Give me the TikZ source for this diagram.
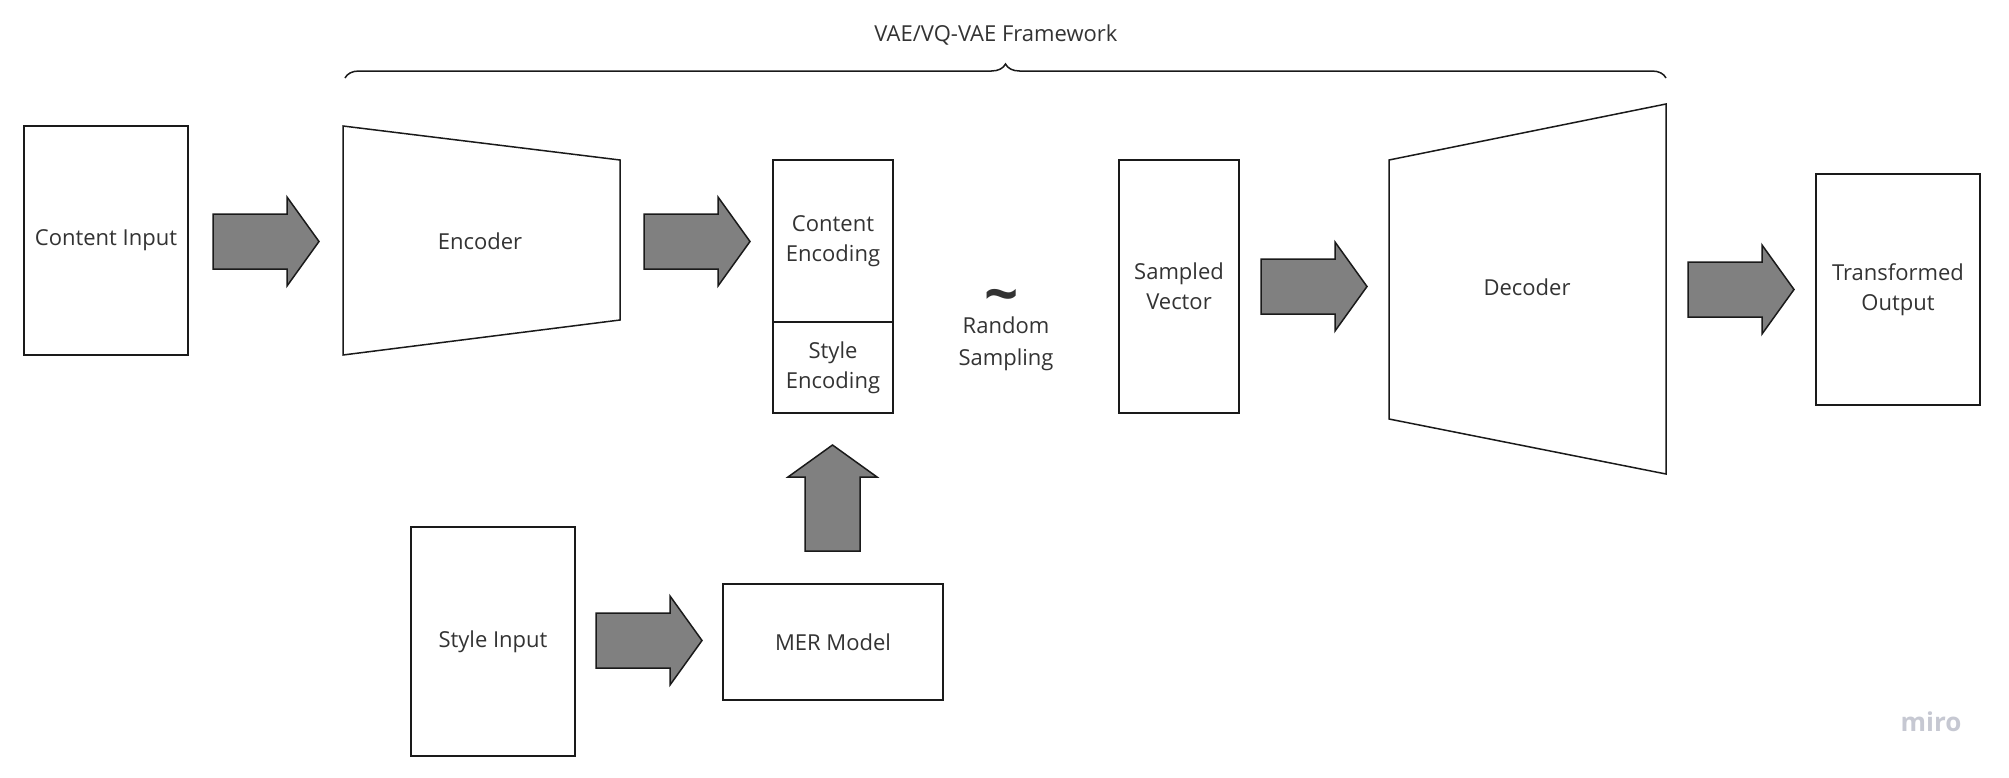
\documentclass[tikz,border=0pt]{standalone}
\usepackage{fontspec}
\setmainfont{Open Sans}
\usetikzlibrary{decorations.pathreplacing}
\definecolor{txt}{HTML}{333333}
\definecolor{ln}{HTML}{1A1A1A}
\definecolor{arrowfill}{HTML}{808080}
\definecolor{mirogray}{HTML}{C6C8D2}
\tikzset{
  box/.style={draw=ln, line width=0.75pt, fill=white, inner sep=0pt, text=txt, align=center, font=\fontsize{11}{15}\selectfont},
  lbl/.style={text=txt, align=center, inner sep=0pt, font=\fontsize{11}{15}\selectfont},
  trap/.style={draw=ln, line width=0.75pt, fill=white, line join=miter},
  blockarrow/.pic={\draw[draw=ln, line width=0.75pt, fill=arrowfill, line join=miter]
    (0,-27.5) -- (74,-27.5) -- (74,-44.5) -- (106,0) -- (74,44.5) -- (74,27.5) -- (0,27.5) -- cycle;}
}
\begin{document}
\begin{tikzpicture}[x=0.5pt,y=-0.5pt]
\useasboundingbox (0,0) rectangle (2009,777);
% brace and title
\draw[ln, line width=0.75pt, decorate, decoration={brace, amplitude=7pt}] (345,78) -- (1666,78);
\node[lbl] (title) at (996,35) {VAE/VQ-VAE Framework};
% boxes
\node[box, minimum width=82pt, minimum height=114.5pt] (ci) at (106,240.5) {Content Input};
\draw[trap] (343,126) -- (620,160) -- (620,320) -- (343,355) -- cycle;
\node[lbl] (enc) at (480,241) {Encoder};
\node[box, minimum width=60pt, minimum height=81pt] (ce) at (833,241) {Content\\Encoding};
\node[box, minimum width=60pt, minimum height=45.5pt] (se) at (833,367.5) {Style\\Encoding};
\node[text=txt, inner sep=0pt, anchor=base, text height=14pt, text depth=0pt, font=\fontsize{30}{30}\selectfont\bfseries] (tilde) at (1002,315) {\char`\~};
\node[lbl, font=\fontsize{11}{16}\selectfont] (rs) at (1006,344) {Random\\Sampling};
\node[box, minimum width=60pt, minimum height=126.5pt] (sv) at (1179,286.5) {Sampled\\Vector};
\draw[trap] (1389,160) -- (1666,104) -- (1666,474) -- (1389,419) -- cycle;
\node[lbl] (dec) at (1527,287) {Decoder};
\node[box, minimum width=82pt, minimum height=115.5pt] (to) at (1898,289.5) {Transformed\\Output};
\node[box, minimum width=82pt, minimum height=114.5pt] (si) at (493,641.5) {Style Input};
\node[box, minimum width=110pt, minimum height=58pt] (mer) at (833,642) {MER Model};
% block arrows
\pic (a1) at (213,241.5) {blockarrow};
\pic (a2) at (644,241.5) {blockarrow};
\pic (a3) at (1261,286.5) {blockarrow};
\pic (a4) at (1688,289.5) {blockarrow};
\pic (a5) at (596,640.5) {blockarrow};
\pic[rotate=90] (a6) at (832.5,551) {blockarrow};
% logo
\node[text=mirogray, inner sep=0pt, font=\fontsize{13}{13}\selectfont\bfseries] (miro) at (1931,722) {miro};
\end{tikzpicture}
\end{document}
